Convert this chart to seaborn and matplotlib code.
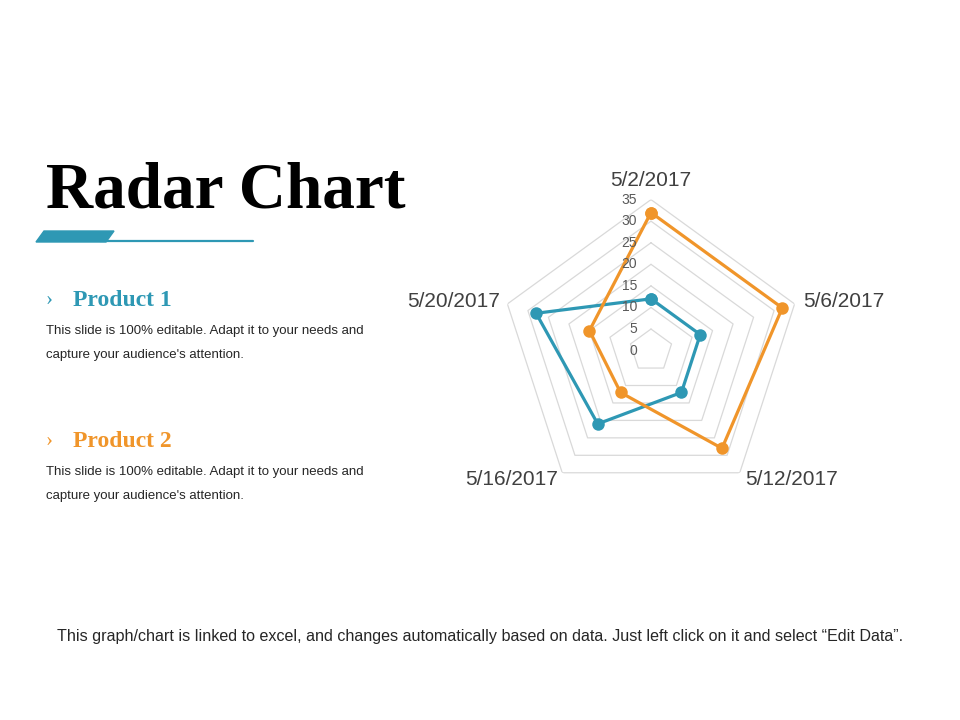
import numpy as np
import pandas as pd
import matplotlib
matplotlib.use('Agg')
import matplotlib.pyplot as plt
from matplotlib.patches import Polygon
import seaborn as sns

dates = ['5/2/2017', '5/6/2017', '5/12/2017', '5/16/2017', '5/20/2017']
product1 = [12, 12, 12, 21, 28]
product2 = [32, 32, 28, 12, 15]
rings = [5, 10, 15, 20, 25, 30, 35]
ring_labels = [0, 5, 10, 15, 20, 25, 30, 35]

blue = '#2e98b4'
orange = '#f0952a'

sns.set_theme(style='white')
plt.rcParams['font.family'] = ['Liberation Sans', 'DejaVu Sans']

W, H = 960, 720
fig = plt.figure(figsize=(9.6, 7.2), dpi=100)

def fx(x):
    return x / W

def fy(y):
    return 1 - y / H

# radar axes: centre (651, 350.6), radius 151 px for 35
cx, cy, rad = 651, 350.6, 151
ax = fig.add_axes([fx(cx - rad), fy(cy + rad), 2 * rad / W, 2 * rad / H],
                  projection='polar')
ax.set_theta_zero_location('N')
ax.set_theta_direction(-1)

n = len(dates)
theta = [2 * np.pi * i / n for i in range(n)]
theta_closed = theta + [2 * np.pi]

for r in rings:
    ax.plot(theta_closed, [r] * (n + 1), color='#d9d9d9', lw=0.9, zorder=1)

rows = []
for name, vals in [('Product 1', product1), ('Product 2', product2)]:
    for t, v in zip(theta_closed, vals + vals[:1]):
        rows.append({'theta': t, 'value': v, 'product': name})
df = pd.DataFrame(rows)

sns.lineplot(data=df, x='theta', y='value', hue='product', sort=False,
             estimator=None, palette={'Product 1': blue, 'Product 2': orange},
             marker='o', markersize=9, markeredgewidth=0, linewidth=2.3,
             ax=ax, legend=False, zorder=3)

ax.set_ylim(0, 35)
ax.grid(False)
ax.spines['polar'].set_visible(False)
ax.set_xticks([])
ax.set_yticks([])
ax.set_xlabel('')
ax.set_ylabel('')
ax.patch.set_alpha(0)

for v in ring_labels:
    ax.annotate(str(v), xy=(0, v), xytext=(-10, 0), textcoords='offset points',
                ha='right', va='center', fontsize=10, color='#595959')

offsets = [((0, 7), 'center', 'bottom'),
           ((6, 2), 'left', 'center'),
           ((4, -4.5), 'left', 'center'),
           ((-3, -4.5), 'right', 'center'),
           ((-5, 2), 'right', 'center')]
for t, lab, (off, ha, va) in zip(theta, dates, offsets):
    ax.annotate(lab, xy=(t, 35), xytext=off, textcoords='offset points',
                ha=ha, va=va, fontsize=15, color='#404040',
                annotation_clip=False)

# left panel text
fig.text(fx(46), fy(207), 'Radar Chart', fontsize=47, fontweight='bold',
         family='Liberation Serif', color='black', va='baseline')

fig.patches.append(Polygon([[fx(36), fy(242)], [fx(44), fy(231)],
                            [fx(114), fy(231)], [fx(106), fy(242)]],
                           closed=True, color=blue, transform=fig.transFigure))
fig.add_artist(plt.Line2D([fx(100), fx(253)], [fy(241), fy(241)],
                          color=blue, lw=1.6, transform=fig.transFigure))

for y0, name, col in [(300, 'Product 1', blue), (441, 'Product 2', orange)]:
    fig.text(fx(46), fy(y0), '›', fontsize=15, color=col,
             family='Liberation Serif', va='center')
    fig.text(fx(73), fy(y0), name, fontsize=17, fontweight='bold', color=col,
             family='Liberation Serif', va='center')
    fig.text(fx(46), fy(y0 + 31), 'This slide is 100% editable. Adapt it to your needs and',
             fontsize=9.5, color='#262626', va='center')
    fig.text(fx(46), fy(y0 + 55), "capture your audience's attention.",
             fontsize=9.5, color='#262626', va='center')

fig.text(fx(480), fy(636),
         'This graph/chart is linked to excel, and changes automatically based on data. '
         'Just left click on it and select \u201cEdit Data\u201d.',
         fontsize=11.6, color='#262626', ha='center', va='center')

fig.savefig('out.png', dpi=100, facecolor='white')
